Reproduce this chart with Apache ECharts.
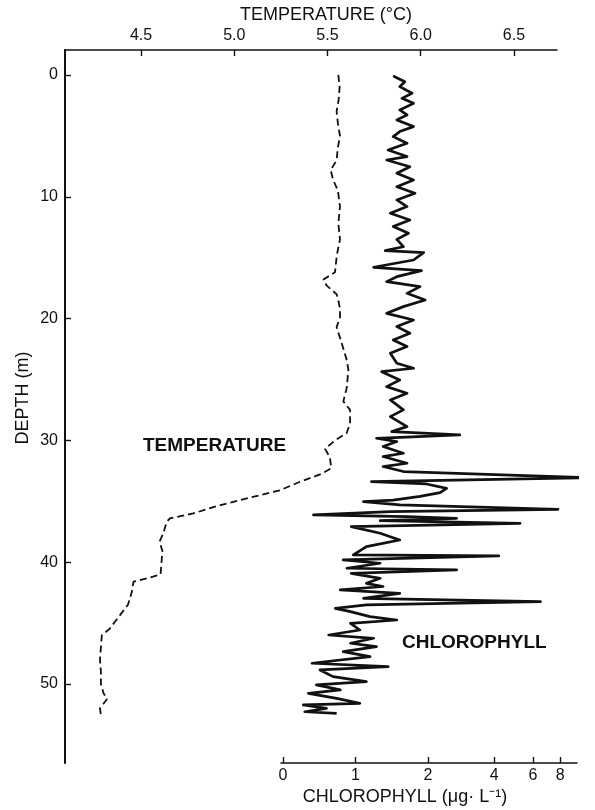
<!DOCTYPE html>
<html><head><meta charset="utf-8">
<script src="https://cdn.jsdelivr.net/npm/echarts@6/dist/echarts.min.js"></script>
<style>html,body{margin:0;padding:0;background:#fff}#c{width:595px;height:810px}</style>
</head><body><div id="c"></div>
<script>
// ---- Data ----
const depthTicks = [0, 10, 20, 30, 40, 50];
const tempTicks = [4.5, 5.0, 5.5, 6.0, 6.5];
const chlTicks = [0, 1, 2, 4, 6, 8];

const tempDepth = [0.0,1.0,2.0,3.0,4.0,5.0,6.0,7.0,7.8,8.6,9.5,10.8,12.2,13.5,14.8,16.2,16.8,17.3,18.0,18.5,19.2,19.9,20.7,22.0,23.4,24.2,25.7,26.8,27.5,28.6,29.4,30.0,30.7,31.4,32.3,32.8,33.4,34.1,34.5,34.9,35.4,36.0,36.4,36.7,37.6,38.3,39.1,40.0,41.0,41.3,41.6,42.5,43.5,44.5,45.5,46.0,47.0,48.0,49.0,50.0,50.8,51.2,51.6,52.0,52.6];
const tempValue = [5.558,5.565,5.560,5.549,5.556,5.567,5.555,5.549,5.517,5.530,5.556,5.567,5.558,5.567,5.550,5.540,5.478,5.496,5.549,5.558,5.567,5.567,5.549,5.576,5.603,5.612,5.603,5.585,5.621,5.621,5.603,5.540,5.487,5.513,5.520,5.460,5.353,5.245,5.138,5.031,4.906,4.780,4.655,4.638,4.620,4.600,4.615,4.610,4.605,4.540,4.460,4.450,4.430,4.380,4.330,4.290,4.285,4.280,4.285,4.285,4.300,4.320,4.300,4.280,4.285];

const chlDepth = [0.08,0.55,0.96,1.50,1.92,2.33,2.87,3.28,3.69,4.24,4.65,5.06,5.61,6.16,6.70,6.98,7.53,8.07,8.62,9.17,9.71,10.26,10.8,11.36,11.9,12.45,13.0,13.5,14.1,14.42,14.58,15.19,15.79,16.06,16.56,16.97,17.38,17.93,18.47,19.02,19.57,20.12,20.66,21.21,21.76,22.3,22.85,23.67,24.08,24.36,25.04,25.59,26.13,26.68,27.5,28.05,28.87,29.28,29.55,29.83,30.1,30.51,31.06,31.33,31.88,32.15,32.56,33.06,33.39,33.58,33.94,34.29,34.6,34.9,35.03,35.3,35.66,35.85,36.12,36.26,36.4,36.59,36.81,37.08,37.63,38.18,38.72,39.41,39.49,39.82,40.09,40.5,40.64,40.92,41.33,41.74,42.0,42.28,42.56,42.97,43.24,43.51,43.79,44.06,44.47,44.75,45.02,45.57,45.98,46.25,46.66,46.93,47.35,47.76,48.3,48.58,48.85,49.4,49.81,50.08,50.49,50.77,51.18,51.59,51.72,52.0,52.28,52.41];
const chlValue = [1.52,1.68,1.61,1.78,1.64,1.80,1.61,1.71,1.57,1.80,1.61,1.52,1.71,1.45,1.71,1.43,1.75,1.57,1.80,1.57,1.82,1.57,1.71,1.48,1.75,1.52,1.73,1.57,1.66,1.41,1.94,1.80,1.25,1.91,1.57,1.43,1.89,1.71,1.96,1.66,1.43,1.80,1.57,1.75,1.52,1.71,1.48,1.57,1.80,1.36,1.61,1.43,1.71,1.48,1.66,1.48,1.71,1.50,2.79,1.29,1.57,1.38,1.66,1.38,1.71,1.38,1.66,10.7,1.22,1.98,2.43,2.27,1.89,1.52,1.11,1.61,7.81,1.48,0.42,1.71,2.70,1.34,5.25,0.94,1.34,1.61,1.15,0.97,4.2,0.83,1.34,0.88,2.7,0.94,1.34,1.15,1.38,0.79,1.61,1.11,6.5,1.15,0.72,0.93,1.20,1.57,0.93,1.06,0.63,1.25,0.93,1.29,0.83,1.20,0.40,1.45,0.51,0.69,1.15,0.46,0.79,0.35,0.74,1.06,0.28,0.60,0.30,0.74];

// ---- Chlorophyll axis scale: linear 0-2, logarithmic above 2 ----
const LOG_K = 3.03;
function chlScale(v) { return v <= 2 ? v : 2 + LOG_K * Math.log10(v / 2); }

const tempData = tempDepth.map((d, i) => [tempValue[i], d]);
const chlData = chlDepth.map((d, i) => [chlScale(chlValue[i]), d]);
const chlTickPos = chlTicks.map(chlScale);

const FONT = '"Liberation Sans", Arial, sans-serif';
const INK = '#111';
const depthMin = -2.05, depthMax = 56.49;

function txt(x, y, text, font, align, rot) {
  return {type: 'text', x: x, y: y, rotation: rot || 0, z: 10,
    style: {text: text, font: font, fill: INK, align: align, verticalAlign: 'middle', textAlign: align, textVerticalAlign: 'middle'}};
}

const chart = echarts.init(document.getElementById('c'), null, {renderer: 'canvas'});
chart.setOption({
  backgroundColor: '#fff',
  animation: false,
  grid: [
    {left: 65, top: 50, width: 492, height: 713},
    {left: 281, top: 50, width: 296, height: 713}
  ],
  xAxis: [
    {
      gridIndex: 0, type: 'value', position: 'top', min: 4.0925, max: 6.7306,
      axisLine: {onZero: false, lineStyle: {color: INK, width: 1.6}},
      axisTick: {inside: true, length: 6, customValues: tempTicks, lineStyle: {color: INK, width: 1.4}},
      axisLabel: {customValues: tempTicks, formatter: v => v.toFixed(1), color: INK, fontSize: 16, fontFamily: FONT, margin: 6},
      splitLine: {show: false}
    },
    {
      gridIndex: 1, type: 'value', position: 'bottom', min: -0.028, max: 4.055,
      axisLine: {onZero: false, lineStyle: {color: INK, width: 1.5}},
      axisTick: {inside: true, length: 6, customValues: chlTickPos, lineStyle: {color: INK, width: 1.4}},
      axisLabel: {customValues: chlTickPos, formatter: v => {
          let best = 0, bd = 1e9;
          chlTicks.forEach(t => { const dd = Math.abs(chlScale(t) - v); if (dd < bd) { bd = dd; best = t; } });
          return String(best);
        }, color: INK, fontSize: 16, fontFamily: FONT, margin: 5},
      splitLine: {show: false}
    }
  ],
  yAxis: [
    {
      gridIndex: 0, type: 'value', inverse: true, min: depthMin, max: depthMax,
      axisLine: {onZero: false, lineStyle: {color: INK, width: 2}},
      axisTick: {inside: true, length: 6, customValues: depthTicks, lineStyle: {color: INK, width: 1.4}},
      axisLabel: {customValues: depthTicks, color: INK, fontSize: 16, fontFamily: FONT, margin: 7},
      splitLine: {show: false}
    },
    {
      gridIndex: 1, type: 'value', inverse: true, min: depthMin, max: depthMax, show: false,
      splitLine: {show: false}
    }
  ],
  graphic: [
    txt(326, 15, 'TEMPERATURE (°C)', '18px ' + FONT, 'center'),
    txt(23, 398, 'DEPTH (m)', '18px ' + FONT, 'center', Math.PI / 2),
    txt(143, 446, 'TEMPERATURE', 'bold 19px ' + FONT, 'left'),
    txt(402, 643, 'CHLOROPHYLL', 'bold 19px ' + FONT, 'left'),
    txt(405, 797, 'CHLOROPHYLL (μg· L⁻¹)', '18px ' + FONT, 'center')
  ],
  series: [
    {
      name: 'Temperature', type: 'line', xAxisIndex: 0, yAxisIndex: 0, data: tempData,
      showSymbol: false, smooth: false, clip: false,
      lineStyle: {color: INK, width: 1.8, type: [7, 4]}
    },
    {
      name: 'Chlorophyll', type: 'line', xAxisIndex: 1, yAxisIndex: 1, data: chlData,
      showSymbol: false, smooth: false, clip: false,
      lineStyle: {color: INK, width: 2.7, join: 'round'}
    }
  ]
});
</script></body></html>
